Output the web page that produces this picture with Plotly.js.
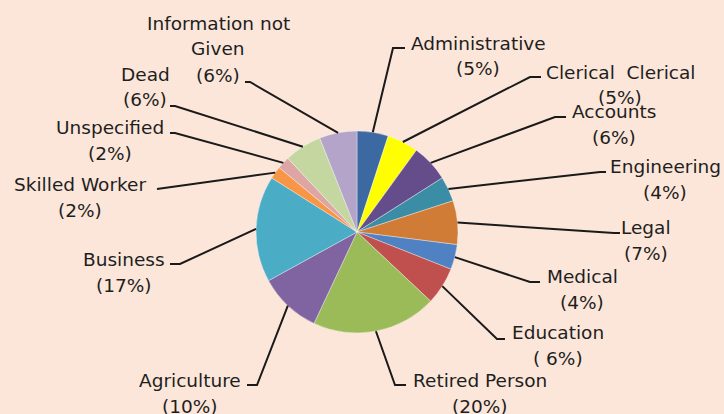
<!DOCTYPE html>
<html><head><meta charset="utf-8">
<script src="https://cdn.plot.ly/plotly-3.0.1.min.js"></script>
<style>html,body{margin:0;padding:0;background:#fbe6d9;}#chart{width:724px;height:414px;}</style>
</head><body><div id="chart"></div>
<script>
// ---- data ----
const categories = ["Administrative","Clerical  Clerical","Accounts","Engineering","Legal","Medical","Education","Retired Person","Agriculture","Business","Skilled Worker","Unspecified","Dead","Information not<br>Given"];
const values = [5,5,6,4,7,4,6,20,10,17,2,2,6,6];
const pctLabels = ["(5%)","(5%)","(6%)","(4%)","(7%)","(4%)","( 6%)","(20%)","(10%)","(17%)","(2%)","(2%)","(6%)","(6%)"];
const colors = ["#3d69a2","#ffff00","#654d8c","#3a8da4","#d07b36","#4f81c3","#c0504d","#9bbb59","#8064a2","#4bacc6","#f79646","#dda6a5","#c4d7a0","#b4a4c9"];

// ---- layout geometry (pixels) ----
const W = 724, H = 414;
const cx = 357, cy = 232, R = 101;
const lineGap = 26;
// per slice: [elbowX, elbowY, endX, endY, labelX, firstLineY]
const labelGeom = [
  [393,48,405,48,478,43],
  [530,77,541,77,620,72],
  [555,117,566,117,614,111],
  [600,172,606,172,665,166],
  [614,233,620,233,646,227],
  [530,282,540,282,582,276],
  [497,339,505,339,558,332],
  [395,385,406,385,480,380],
  [257,385,247,385,190,380],
  [180,264,170,264,124,259],
  [157,189,157,189,80,184],
  [175,133,170,133,110,127],
  [175,106,170,106,145,74],
  [250,82,245,82,218,23]
];

const px = x => x / W;
const py = y => 1 - y / H;

const total = values.reduce((a,b)=>a+b,0);
let cum = 0;
const shapes = [], annotations = [];
values.forEach((v,i)=>{
  const mid = (cum + v/2) / total * 2 * Math.PI;
  cum += v;
  const ex = cx + R * Math.sin(mid), ey = cy - R * Math.cos(mid);
  const g = labelGeom[i];
  shapes.push({type:'path', xref:'paper', yref:'paper',
    path:`M ${px(ex)} ${py(ey)} L ${px(g[0])} ${py(g[1])} L ${px(g[2])} ${py(g[3])}`,
    line:{color:'#1a1a1a', width:2}});
  const lines = categories[i].split('<br>').concat([pctLabels[i]]);
  lines.forEach((t,k)=>{
    annotations.push({xref:'paper', yref:'paper', x:px(g[4]), y:py(g[5] + k*lineGap),
      xanchor:'center', yanchor:'middle', align:'center', showarrow:false,
      text: t,
      font:{family:'"DejaVu Sans", sans-serif', size:18.5, color:'#1e1e1e'}});
  });
});

const trace = {
  type:'pie', values: values, labels: categories.map(s=>s.replace('<br>',' ')),
  sort:false, direction:'clockwise', rotation:0,
  textinfo:'none', hoverinfo:'label+percent',
  marker:{colors: colors, line:{color:'rgba(255,255,255,0.45)', width:0.8}},
  domain:{x:[px(cx-R), px(cx+R)], y:[py(cy+R), py(cy-R)]},
  showlegend:false
};

Plotly.newPlot('chart', [trace], {
  width:W, height:H, margin:{l:0,r:0,t:0,b:0},
  paper_bgcolor:'#fbe6d9', plot_bgcolor:'#fbe6d9',
  shapes: shapes, annotations: annotations, showlegend:false
}, {displayModeBar:false, staticPlot:true});
</script></body></html>
